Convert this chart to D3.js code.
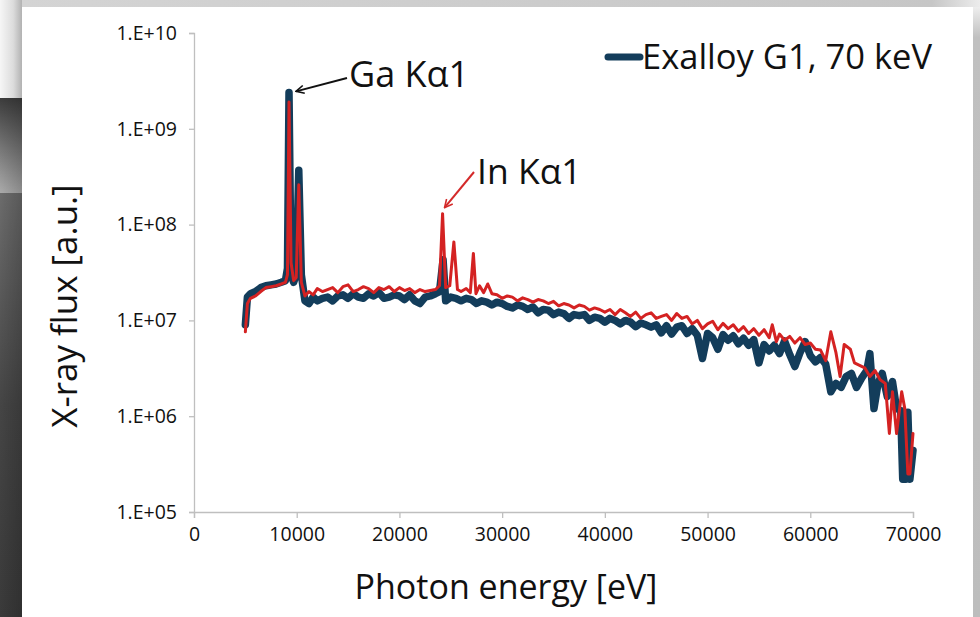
<!DOCTYPE html>
<html>
<head>
<meta charset="utf-8">
<script src="https://cdn.jsdelivr.net/npm/d3@7"></script>
<style>
html,body{margin:0;padding:0;background:#fff;}
svg{display:block;}
text{font-family:"Open Sans","Noto Sans",sans-serif;}
</style>
</head>
<body>
<svg id="chart" width="980" height="617"></svg>
<script>
// ---------- data ----------
const seriesNames = ["Exalloy G1, 70 keV", "Reference"];
const xTicks = [0, 10000, 20000, 30000, 40000, 50000, 60000, 70000];
const xTickLabels = ["0", "10000", "20000", "30000", "40000", "50000", "60000", "70000"];
const yTicks = [1e5, 1e6, 1e7, 1e8, 1e9, 1e10];
const yTickLabels = ["1.E+05", "1.E+06", "1.E+07", "1.E+08", "1.E+09", "1.E+10"];

const darkEnergy = [5000,5200,5500,6000,6500,7000,7500,8000,8500,8900,9100,9250,9450,9700,9950,10200,10450,10800,11200,11600,12000,12500,13000,13500,14000,14500,15000,15500,16000,16500,17000,17500,18000,18500,19000,19500,20000,20500,21000,21500,22000,22500,23000,23500,23900,24250,24500,25000,25500,26000,26500,27000,27500,28000,28500,29000,29500,30000,30500,31000,31500,32000,32500,33000,33500,34000,34500,35000,35500,36000,36500,37000,37500,38000,38500,39000,39500,40000,40500,41000,41500,42000,42500,43000,43500,44000,44500,45000,45500,46000,46500,47000,47500,48000,48500,49000,49500,50000,50500,51000,51500,52000,52500,53000,53500,54000,54500,55000,55500,56000,56500,57000,57500,58000,58500,59000,59500,60000,60500,61000,61500,62000,62500,63000,63500,64000,64500,65000,65500,65800,66200,66600,67000,67500,68000,68400,68800,69000,69300,69500,69700,70000];
const darkFlux = [9.0e6,1.75e7,1.9e7,2.0e7,2.2e7,2.3e7,2.35e7,2.4e7,2.5e7,2.6e7,3.5e7,2.4e9,3.0e7,2.5e7,3.0e7,3.7e8,3.0e7,1.6e7,
  1.5e7,1.75e7,1.6e7,1.7e7,1.75e7,1.6e7,1.8e7,1.85e7,1.7e7,1.9e7,1.75e7,1.7e7,1.9e7,1.8e7,1.95e7,1.7e7,1.75e7,1.85e7,1.8e7,1.65e7,1.85e7,1.6e7,1.5e7,1.75e7,1.8e7,1.9e7,2.0e7,4.3e7,1.6e7,
  1.75e7,1.7e7,1.6e7,1.7e7,1.65e7,1.5e7,1.6e7,1.55e7,1.45e7,1.55e7,1.5e7,1.4e7,1.35e7,1.45e7,1.4e7,1.3e7,1.38e7,1.2e7,1.3e7,1.28e7,1.15e7,1.22e7,1.18e7,1.05e7,1.15e7,1.12e7,1.15e7,1.0e7,1.08e7,1.05e7,9.6e6,1.05e7,1.0e7,9.2e6,1.0e7,9.6e6,8.6e6,9.4e6,9.0e6,8.5e6,9.0e6,
  7.4e6,8.8e6,7.2e6,8.5e6,8.8e6,7.3e6,8.2e6,7.0e6,4.0e6,
  7.3e6,6.6e6,5.0e6,7.1e6,6.2e6,6.9e6,5.7e6,6.5e6,5.5e6,6.3e6,3.6e6,5.6e6,4.8e6,5.5e6,4.5e6,6.1e6,4.4e6,3.3e6,4.6e6,6.0e6,4.3e6,3.7e6,4.1e6,3.5e6,1.8e6,2.2e6,2.0e6,2.6e6,2.8e6,2.0e6,2.5e6,3.0e6,4.5e6,1.2e6,2.2e6,2.8e6,1.6e6,2.3e6,1.2e6,1.15e6,2.2e5,2.2e5,1.1e6,2.2e5,4.4e5];

const redEnergy = [5000,5200,5500,6000,6500,7000,7500,8000,8500,8900,9100,9250,9450,9700,9950,10200,10450,10800,11200,11600,12000,12500,13000,13500,14000,14500,15000,15500,16000,16500,17000,17500,18000,18500,19000,19500,20000,20500,21000,21500,22000,22500,23000,23500,23900,24200,24500,24900,25300,25650,26000,26500,26900,27200,27450,27800,28200,28600,29000,29500,30000,30500,31000,31500,32000,32500,33000,33500,34000,34500,35000,35500,36000,36500,37000,37500,38000,38500,39000,39500,40000,40500,41000,41500,42000,42500,43000,43500,44000,44500,45000,45500,46000,46500,47000,47500,48000,48500,49000,49500,50000,50500,51000,51500,52000,52500,53000,53500,54000,54500,55000,55500,56000,56300,56700,57000,57500,58000,58500,59000,59500,60000,60500,61000,61500,62000,62500,62900,63300,63900,64300,64800,65300,65800,66300,66800,67300,67700,68000,68400,68900,69200,69500,69700,70000];
const redFlux = [7.6e6,1.5e7,1.7e7,1.8e7,2.0e7,2.2e7,2.25e7,2.3e7,2.4e7,2.5e7,3.0e7,1.9e9,4.0e7,2.6e7,2.8e7,2.6e8,2.5e7,1.8e7,
  2.0e7,1.85e7,2.15e7,2.0e7,2.1e7,2.2e7,1.95e7,2.25e7,2.35e7,2.0e7,2.1e7,2.25e7,2.15e7,1.95e7,2.2e7,2.1e7,2.25e7,2.0e7,2.2e7,2.05e7,2.15e7,1.95e7,2.1e7,2.0e7,2.05e7,2.1e7,2.3e7,1.3e8,2.2e7,
  2.3e7,6.6e7,2.1e7,2.0e7,2.15e7,1.95e7,5.0e7,1.9e7,2.3e7,1.95e7,2.4e7,
  1.9e7,1.85e7,1.7e7,1.8e7,1.75e7,1.6e7,1.72e7,1.65e7,1.55e7,1.65e7,1.6e7,1.5e7,1.58e7,1.42e7,1.5e7,1.45e7,1.35e7,1.45e7,1.4e7,1.28e7,1.35e7,1.3e7,1.22e7,1.3e7,1.15e7,1.3e7,1.2e7,1.1e7,1.22e7,1.05e7,1.15e7,1.2e7,1.05e7,1.1e7,1.15e7,1.0e7,1.18e7,1.05e7,1.1e7,9.2e6,1.0e7,
  8.2e6,9.2e6,9.8e6,8.0e6,9.3e6,8.2e6,9.0e6,7.7e6,8.6e6,7.3e6,8.2e6,7.0e6,8.0e6,6.6e6,
  9.0e6,6.0e6,7.2e6,6.2e6,6.8e6,5.8e6,6.6e6,5.6e6,5.8e6,5.0e6,4.9e6,3.8e6,7.6e6,4.6e6,
  2.6e6,5.6e6,5.0e6,3.6e6,3.4e6,3.2e6,2.6e6,3.0e6,2.4e6,2.2e6,6.6e5,1.8e6,6.6e5,1.8e6,1.2e6,2.5e5,2.5e5,6.6e5];

const annotations = [
  {label: "Ga K\u03b11", energy: 9250, flux: 2.4e9, color: "#111111"},
  {label: "In K\u03b11", energy: 24200, flux: 1.3e8, color: "#d42a2a"}
];

// ---------- drawing ----------
const svg = d3.select("#chart");
const W = 980, H = 617;
const defs = svg.append("defs");

// decorative frame
function lg(id, x1, y1, x2, y2, stops) {
  const g = defs.append("linearGradient").attr("id", id)
    .attr("x1", x1).attr("y1", y1).attr("x2", x2).attr("y2", y2);
  stops.forEach(s => g.append("stop").attr("offset", s[0]).attr("stop-color", s[1]));
}
lg("gTopLeft", 0, 0, 1, 0, [[0, "#f6f6f6"], [0.6, "#dcdcdc"], [1, "#b2b2b2"]]);
lg("gMid", 0, 0, 0, 1, [[0, "#3c3c3c"], [1, "#ababab"]]);
lg("gLow", 0, 0, 0, 1, [[0, "#6c6c6c"], [0.5, "#454545"], [1, "#3a3a3a"]]);
lg("gShadeR", 0, 0, 1, 0, [[0, "rgba(0,0,0,0)"], [1, "rgba(0,0,0,0.18)"]]);
lg("gTop", 0, 0, 1, 0, [[0, "#d4d4d4"], [0.95, "#c6c6c6"], [1, "#ececec"]]);
lg("gRight", 0, 0, 0, 1, [[0, "#eeeeee"], [0.05, "#c0c0c0"], [1, "#bdbdbd"]]);

svg.append("rect").attr("x", 0).attr("y", 0).attr("width", W).attr("height", H).attr("fill", "#fff");
svg.append("rect").attr("x", 0).attr("y", 0).attr("width", 22).attr("height", 98).attr("fill", "url(#gTopLeft)");
svg.append("rect").attr("x", 0).attr("y", 98).attr("width", 22).attr("height", 95).attr("fill", "url(#gMid)");
svg.append("rect").attr("x", 0).attr("y", 193).attr("width", 22).attr("height", H - 193).attr("fill", "url(#gLow)");
svg.append("rect").attr("x", 0).attr("y", 98).attr("width", 22).attr("height", H - 98).attr("fill", "url(#gShadeR)");
svg.append("rect").attr("x", 22).attr("y", 0).attr("width", 958).attr("height", 7).attr("fill", "url(#gTop)");
svg.append("rect").attr("x", 973).attr("y", 7).attr("width", 7).attr("height", H - 7).attr("fill", "url(#gRight)");

// scales
const x = d3.scaleLinear().domain([0, 70000]).range([194, 913]);
const y = d3.scaleLog().domain([1e5, 1e10]).range([512, 33]);

// axes
const xAxis = d3.axisBottom(x).tickValues(xTicks).tickSize(6).tickPadding(9)
  .tickFormat((d, i) => xTickLabels[i]);
const yAxis = d3.axisLeft(y).tickValues(yTicks).tickSize(5).tickPadding(12)
  .tickFormat((d, i) => yTickLabels[i]);

const gx = svg.append("g").attr("transform", "translate(0,512)").call(xAxis);
const gy = svg.append("g").attr("transform", "translate(194,0)").call(yAxis);
[gx, gy].forEach(g => {
  g.select(".domain").attr("stroke", "#bfbfbf").attr("stroke-width", 1.3);
  g.selectAll(".tick line").attr("stroke", "#bfbfbf").attr("stroke-width", 1.3);
  g.selectAll(".tick text").attr("fill", "#111").attr("font-family", "'Open Sans', sans-serif");
});
gx.selectAll(".tick text").attr("font-size", 19.5);
gy.selectAll(".tick text").attr("font-size", 19.5);

// lines
const line = d3.line().x(d => x(d[0])).y(d => y(d[1]));
const darkData = darkEnergy.map((e, i) => [e, darkFlux[i]]);
const redData = redEnergy.map((e, i) => [e, redFlux[i]]);

svg.append("path").datum(darkData).attr("d", line)
  .attr("fill", "none").attr("stroke", "#133d5b").attr("stroke-width", 7.5)
  .attr("stroke-linejoin", "round").attr("stroke-linecap", "round");
svg.append("path").datum(redData).attr("d", line)
  .attr("fill", "none").attr("stroke", "#d42222").attr("stroke-width", 3)
  .attr("stroke-linejoin", "round").attr("stroke-linecap", "round");

// axis titles
svg.append("text").attr("x", 506).attr("y", 599).attr("text-anchor", "middle")
  .attr("font-size", 34).attr("fill", "#111").text("Photon energy [eV]");
svg.append("text").attr("transform", "translate(77,306) rotate(-90)").attr("text-anchor", "middle")
  .attr("font-size", 35).attr("fill", "#111").text("X-ray flux [a.u.]");

// legend
svg.append("line").attr("x1", 608).attr("x2", 640).attr("y1", 57).attr("y2", 57)
  .attr("stroke", "#133d5b").attr("stroke-width", 7).attr("stroke-linecap", "round");
svg.append("text").attr("x", 642).attr("y", 69).attr("font-size", 34.5).attr("fill", "#111")
  .text(seriesNames[0]);

// annotations with arrows
defs.append("marker").attr("id", "arrBlack").attr("viewBox", "0 0 10 10").attr("refX", 9).attr("refY", 5)
  .attr("markerWidth", 5).attr("markerHeight", 5).attr("orient", "auto")
  .append("path").attr("d", "M1,1 L9,5 L1,9").attr("fill", "none").attr("stroke", annotations[0].color).attr("stroke-width", 1.6);
defs.append("marker").attr("id", "arrRed").attr("viewBox", "0 0 10 10").attr("refX", 9).attr("refY", 5)
  .attr("markerWidth", 5).attr("markerHeight", 5).attr("orient", "auto")
  .append("path").attr("d", "M1,1 L9,5 L1,9").attr("fill", "none").attr("stroke", annotations[1].color).attr("stroke-width", 1.6);

// Ga
const ga = annotations[0];
svg.append("line").attr("x1", 347).attr("y1", 78).attr("x2", x(ga.energy) + 7).attr("y2", y(ga.flux) - 1)
  .attr("stroke", ga.color).attr("stroke-width", 2).attr("marker-end", "url(#arrBlack)");
svg.append("text").attr("x", 349).attr("y", 87).attr("font-size", 36).attr("fill", "#111").text(ga.label);
// In
const ink = annotations[1];
svg.append("line").attr("x1", 474).attr("y1", 172).attr("x2", x(ink.energy) + 2).attr("y2", y(ink.flux) - 6)
  .attr("stroke", ink.color).attr("stroke-width", 2).attr("marker-end", "url(#arrRed)");
svg.append("text").attr("x", 477).attr("y", 184).attr("font-size", 35.5).attr("fill", "#111").text(ink.label);
</script>
</body>
</html>
